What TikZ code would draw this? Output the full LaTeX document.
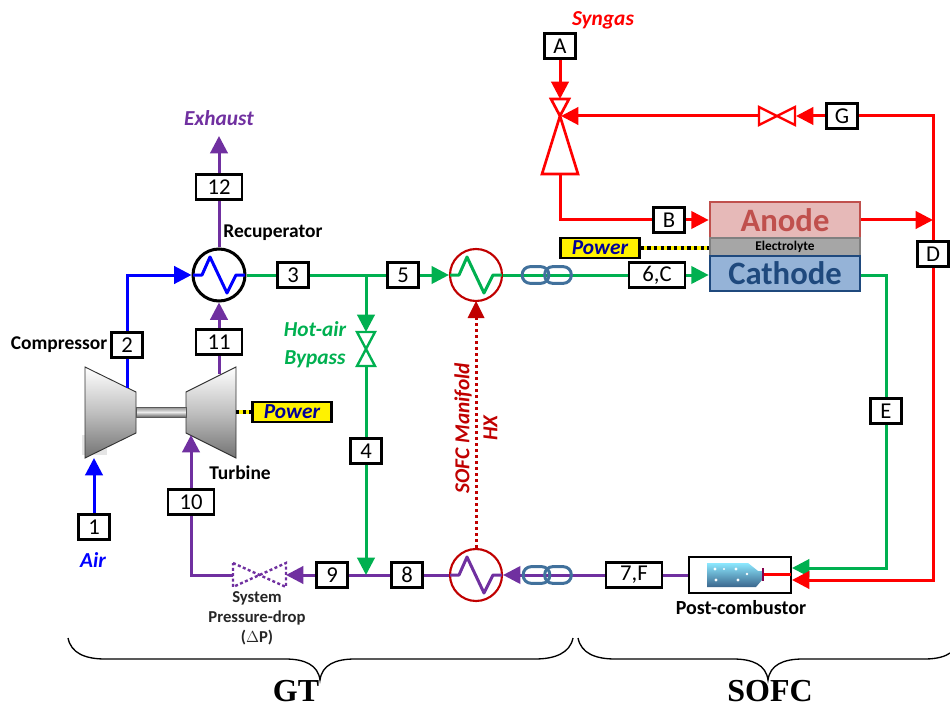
\documentclass[tikz,border=0pt]{standalone}
\usepackage{fontspec}
\setmainfont{Carlito}
\newfontfamily\bracefont{Liberation Serif}
\usetikzlibrary{arrows.meta,positioning}
\definecolor{AirBlue}{HTML}{0000FF}
\definecolor{GasPurple}{HTML}{7030A0}
\definecolor{HotGreen}{HTML}{00B050}
\definecolor{FuelRed}{HTML}{FF0000}
\definecolor{HxRed}{HTML}{C00000}
\definecolor{LinkBlue}{HTML}{41719C}
\definecolor{PowerNavy}{HTML}{000099}
\definecolor{AnodeFill}{HTML}{E6B9B8}
\definecolor{AnodeEdge}{HTML}{C0504D}
\definecolor{CathodeFill}{HTML}{95B3D7}
\definecolor{CathodeEdge}{HTML}{1F497D}

\begin{document}
\begin{tikzpicture}[
  x=0.75pt,y=-0.75pt,
  node distance=-1.5pt,
  tag/.style={draw=black,fill=white,line width=1.8pt,inner sep=0pt,minimum width=23.5pt,minimum height=19pt,font=\fontsize{17}{20}\selectfont},
  widetag/.style={tag,minimum width=34.5pt},
  widertag/.style={tag,minimum width=42pt},
  flow/.style={line width=2.25pt},
  tip/.style={-{Triangle[length=13pt,width=13pt]}},
  hx/.style={circle,draw=HxRed,fill=white,line width=1.6pt,inner sep=0pt,minimum size=39pt},
  ring/.style={draw=LinkBlue,line width=2.25pt,rounded corners=6pt,minimum width=20pt,minimum height=12.5pt,inner sep=0pt},
  powerbox/.style={draw=black,fill=yellow,line width=1.8pt,inner sep=0pt,minimum width=59pt,minimum height=15pt,text=PowerNavy,font=\fontsize{16}{18}\selectfont\bfseries\itshape},
  powerline/.style={line width=2.5pt,draw=yellow,postaction={draw=black,dash pattern=on 2.5pt off 2.5pt}},
  cell/.style={line width=1.5pt,inner sep=0pt,minimum width=113pt},
  machine/.style={draw=black!80,line width=0.7pt,top color=white,bottom color=black!55,middle color=black!25},
  plainlabel/.style={font=\fontsize{14.6}{16}\selectfont\bfseries},
  streamlabel/.style={font=\fontsize{16}{21}\selectfont\bfseries\itshape,align=center}
]
\useasboundingbox (0,0) rectangle (950,706);

\fill[black!10] (82,435) rectangle (107,455);
\path[machine] (85,367) -- (136,392) -- (136,433) -- (85,458) -- cycle;
\path[machine] (186,392) -- (236,367) -- (236,458) -- (186,433) -- cycle;
\path[draw=black!65,line width=0.6pt,top color=black!45,bottom color=black!60,middle color=black!8] (136,407) rectangle (186,417);

\coordinate (compIn) at (94,458);
\coordinate (compOut) at (127,388);
\coordinate (turbIn) at (191,435);
\coordinate (turbOut) at (219,374);
\coordinate (turbPower) at (236,412);
\coordinate (exhaustEnd) at (219,136);
\coordinate (bypassTee) at (366,275);
\coordinate (bypassEnd) at (366,575);
\coordinate (bypassTop) at (366,332);
\coordinate (bypassLow) at (366,366);
\coordinate (dropRight) at (286,575);
\coordinate (dropLeft) at (233,575);
\coordinate (ejectTop) at (560,99);
\coordinate (ejectMid) at (561,116);
\coordinate (ejectBase) at (560,174);
\coordinate (recycleRight) at (796,116);
\coordinate (recycleLeft) at (759,116);
\coordinate (anodeEnd) at (933,220);
\coordinate (combGreen) at (792,568);
\coordinate (combRed) at (792,580);

\node[hx,draw=black,line width=2.25pt] (hxRec) at (219,275) {};
\node[hx] (hxTop) at (476,275) {};
\node[hx] (hxLow) at (476,575) {};

\node[tag,anchor=center,fill=AnodeFill,draw=AnodeEdge,cell,minimum height=27pt,text=AnodeEdge,font=\fontsize{24.5}{26}\selectfont\bfseries] (anode) at (785,220.5) {Anode};
\node[tag,fill=black!35,draw=black!50,cell,minimum height=13pt,font=\fontsize{10}{12}\selectfont\bfseries,below=of anode] (electrolyte) {Electrolyte};
\node[tag,fill=CathodeFill,draw=CathodeEdge,cell,minimum height=26.5pt,text=CathodeEdge,font=\fontsize{24.5}{26}\selectfont\bfseries,below=of electrolyte] (cathode) {Cathode};

\node[tag,minimum width=76.5pt,minimum height=27pt] (combustor) at (740,575) {};

\node[tag] (b1) at (94,527) {1};
\node[tag] (b2) at (127,345) {2};
\node[tag] (b3) at (293,275) {3};
\node[tag] (b4) at (366,451) {4};
\node[tag] (b5) at (403,275) {5};
\node[widertag] (b6) at (657,275) {6,C};
\node[widertag] (b7) at (634,575) {7,F};
\node[tag] (b8) at (407,575) {8};
\node[tag] (b9) at (332,575) {9};
\node[widetag] (b10) at (191,502) {10};
\node[widetag] (b11) at (219,342) {11};
\node[widetag] (b12) at (219,187) {12};
\node[tag] (bA) at (560,46) {A};
\node[tag] (bB) at (669,220) {B};
\node[tag] (bD) at (933,254) {D};
\node[tag] (bE) at (886,411) {E};
\node[tag] (bG) at (842,116) {G};

\node[powerbox] (powerGT) at (292,412) {Power};
\node[powerbox] (powerFC) at (600,248) {Power};

\draw[powerline] (turbPower) -- (powerGT);
\draw[powerline] (powerFC) -- (powerFC -| electrolyte.west);

\draw[flow,AirBlue,tip] (b1) -- (compIn);
\draw[flow,AirBlue] (compOut) -- (b2);
\draw[flow,AirBlue,tip] (b2) |- (hxRec);

\draw[flow,GasPurple] (hxRec) -- (b12);
\draw[flow,GasPurple,tip] (b12) -- (exhaustEnd);
\draw[flow,GasPurple] (turbOut) -- (b11);
\draw[flow,GasPurple,tip] (b11) -- (hxRec);
\draw[flow,GasPurple,tip] (b10) -- (turbIn);
\draw[flow,GasPurple] (dropLeft) -| (b10);
\draw[flow,GasPurple,tip] (b9) -- (dropRight);
\draw[flow,GasPurple] (b8) -- (b9);
\draw[flow,GasPurple] (hxLow) -- (b8);
\draw[flow,GasPurple,tip] (b7) -- (hxLow);
\draw[flow,GasPurple] (combustor) -- (b7);
\draw[GasPurple,line width=1.8pt,dash pattern=on 2.25pt off 1.8pt] (233,563) -- (286,587) -- (286,563) -- (233,587) -- cycle;

\draw[flow,HotGreen] (hxRec) -- (b3);
\draw[flow,HotGreen] (b3) -- (b5);
\draw[flow,HotGreen,tip] (b5) -- (hxTop);
\draw[flow,HotGreen] (hxTop) -- (b6);
\draw[flow,HotGreen,tip] (b6) -- (cathode.west |- b6);
\draw[flow,HotGreen,tip] (bypassTee) -- (bypassTop);
\draw[flow,HotGreen] (bypassLow) -- (b4);
\draw[flow,HotGreen,tip] (b4) -- (bypassEnd);
\draw[HotGreen,line width=1.8pt] (357,332) -- (375,332) -- (357,366) -- (375,366) -- cycle;
\draw[flow,HotGreen] (cathode.east |- b6) -| (bE);
\draw[flow,HotGreen,tip] (bE) |- (combGreen);

\draw[flow,FuelRed,tip] (bA) -- (ejectTop);
\draw[FuelRed,line width=2pt,line join=miter] (551,99) -- (569,99) -- (560,116) -- cycle;
\draw[FuelRed,line width=2pt,line join=miter] (560,116) -- (578,174) -- (542,174) -- cycle;
\draw[flow,FuelRed] (ejectBase) |- (bB);
\draw[flow,FuelRed,tip] (bB) -- (anode.west |- bB);
\draw[flow,FuelRed,tip] (anode.east |- bB) -- (anodeEnd);
\draw[flow,FuelRed,tip] (bG) -- (recycleRight);
\draw[flow,FuelRed,tip] (recycleLeft) -- (ejectMid);
\draw[FuelRed,line width=1.8pt] (759,107) -- (795,125) -- (795,107) -- (759,125) -- cycle;
\draw[flow,FuelRed] (bG) -| (bD);
\draw[flow,FuelRed,tip] (bD) |- (combRed);

\draw[HxRed,line width=2.25pt,dash pattern=on 2.25pt off 2.25pt] (hxLow) -- (hxTop);
\fill[HxRed] (476,301) -- (484.5,318) -- (467.5,318) -- cycle;

\node[ring] (linkTopA) at (535.5,275) {};
\node[ring] (linkTopB) at (558,275) {};
\node[ring] (linkLowA) at (536.5,575) {};
\node[ring] (linkLowB) at (558,575) {};

\draw[flow,AirBlue,line join=round] (hxRec.center) ++(-26,0) -- ++(9,0) -- ++(8,-18) -- ++(17,36) -- ++(9,-18) -- ++(9,0);
\draw[flow,HotGreen,line join=round] (hxTop.center) ++(-26,0) -- ++(9,0) -- ++(8,-18) -- ++(17,36) -- ++(9,-18) -- ++(9,0);
\draw[flow,GasPurple,line join=round] (hxLow.center) ++(-26,0) -- ++(9,0) -- ++(8,-18) -- ++(17,36) -- ++(9,-18) -- ++(9,0);

\shade[top color=blue!20!cyan!45,bottom color=LinkBlue!90!black] (707,563) -- (748,563) -- (758,571) -- (762,571) -- (762,580) -- (756,587) -- (707,587) -- cycle;
\fill[white] (715,569) circle (1.6) (736,569) circle (1.6) (724,569) circle (1.2) (747,574) circle (1.4) (716,580) circle (1.6) (738,580) circle (1.6);
\draw[FuelRed,line width=2.25pt] (763,574) -- (791,574);
\draw[HxRed!70!blue,line width=1.2pt] (763,568) -- (763,581);

\node[plainlabel] (recupLabel) at (273,233) {Recuperator};
\node[plainlabel] (compLabel) at (59,345) {Compressor};
\node[plainlabel] (turbLabel) at (240,473) {Turbine};
\node[font=\fontsize{15}{16}\selectfont\bfseries] (combLabel) at (741,608) {Post-combustor};
\node[font=\fontsize{12.5}{15}\selectfont\bfseries,text=black!85,align=center] (dropLabel) at (257,618) {System\\Pressure-drop\\($\Delta$P)};

\node[streamlabel,text=GasPurple] (exhaustLabel) at (219,118) {Exhaust};
\node[streamlabel,text=AirBlue] (airLabel) at (93,560) {Air};
\node[streamlabel,text=HotGreen] (bypassLabel) at (315,345) {Hot-air\\Bypass};
\node[streamlabel,text=FuelRed] (syngasLabel) at (603,20) {Syngas};
\node[streamlabel,text=HxRed,rotate=90] (manifoldLabel) at (476,428) {SOFC Manifold\\HX};

\draw[line width=1pt] (68,638) .. controls (71,653) and (85,659) .. (105,659) -- (285,659) .. controls (305,659) and (318,665) .. (320,680) .. controls (322,665) and (335,659) .. (355,659) -- (535,659) .. controls (555,659) and (570,653) .. (573,638);
\draw[line width=1pt] (578,638) .. controls (581,653) and (595,659) .. (615,659) -- (733,659) .. controls (753,659) and (766,665) .. (768,680) .. controls (770,665) and (783,659) .. (803,659) -- (925,659) .. controls (938,659) and (946,656) .. (950,653);
\node[font=\bracefont\fontsize{24}{26}\selectfont\bfseries,inner sep=0pt] (gtLabel) at (296,691) {GT};
\node[font=\bracefont\fontsize{24}{26}\selectfont\bfseries,inner sep=0pt] (sofcLabel) at (770,691) {SOFC};
\end{tikzpicture}
\end{document}
